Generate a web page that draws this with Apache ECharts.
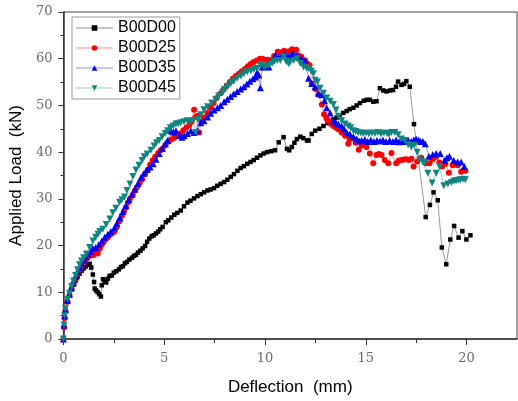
<!DOCTYPE html>
<html>
<head>
<meta charset="utf-8">
<script src="https://cdn.jsdelivr.net/npm/echarts@6/dist/echarts.min.js"></script>
<style>
html,body{margin:0;padding:0;background:#fff;}
#chart{width:518px;height:401px;}
</style>
</head>
<body>
<div id="chart"></div>
<script>
// Legend names
const seriesNames = ['B00D00', 'B00D25', 'B00D35', 'B00D45'];

// Tick values
const xMajorTicks = [0, 5, 10, 15, 20];
const xMinorTicks = [2.5, 7.5, 12.5, 17.5];

// B00D00 : [deflection (mm), applied load (kN)]
const b00d00 = [
[0,0],[0.03,2.5],[0.06,4.5],[0.1,6],[0.2,8],[0.3,9.4],[0.4,10.6],[0.5,11.6],[0.6,12.5],[0.7,13.3],
[0.8,14],[0.9,14.6],[1.0,15.1],[1.1,15.5],[1.2,15.9],[1.3,16.1],[1.38,15.3],[1.46,13.8],[1.52,12.2],[1.55,10.8],
[1.62,10.4],[1.7,10],[1.78,9.6],[1.86,9.1],[1.9,11.5],[1.96,12.8],[2.04,12.5],[2.12,12.1],[2.2,12.9],[2.29,13.5],
[2.4,13.6],[2.5,14.2],[2.62,14.5],[2.75,14.9],[2.85,15.4],[2.95,15.6],[3.05,16.2],[3.15,16.5],[3.27,17],[3.4,17.4],
[3.5,17.8],[3.6,18],[3.7,18.5],[3.82,18.9],[3.93,19.4],[4.05,19.9],[4.15,20.8],[4.26,21.5],[4.38,22],[4.48,22.2],
[4.59,22.6],[4.7,23],[4.8,23.5],[4.92,24],[5.08,25],[5.2,25.4],[5.35,26],[5.5,26.6],[5.65,27],[5.82,27.5],
[5.98,28.4],[6.15,29.2],[6.3,29.6],[6.48,30.1],[6.65,30.6],[6.81,31],[6.98,31.4],[7.15,31.8],[7.3,32],[7.47,32.3],
[7.63,32.8],[7.8,33.2],[7.97,33.6],[8.13,34.1],[8.3,34.7],[8.46,35.3],[8.63,36],[8.79,36.6],[8.95,37],[9.12,37.5],
[9.28,37.9],[9.44,38.3],[9.6,38.8],[9.77,39.3],[9.93,39.7],[10.1,40],[10.3,40.2],[10.5,40.4],[10.68,42.1],[10.92,43.2],
[11.09,40.7],[11.2,40.4],[11.33,41.1],[11.46,42],[11.58,42.8],[11.75,43.3],[11.9,43],[12.08,42.5],[12.16,42.5],[12.32,43.9],
[12.49,44.6],[12.7,45],[12.9,45.6],[13.1,46.2],[13.25,46.5],[13.39,47],[13.55,47.4],[13.7,47.9],[13.88,48.4],[14.05,48.8],
[14.2,49.2],[14.38,49.5],[14.55,50],[14.71,50.5],[14.9,51],[15.05,51.2],[15.2,51.2],[15.37,50.8],[15.53,50.9],[15.7,53.7],
[15.87,53.2],[16.03,53],[16.2,53.2],[16.35,53.3],[16.5,54],[16.6,55.1],[16.77,54.4],[16.9,54.6],[17.01,55.2],[17.18,54],
[17.39,46],[17.97,26.1],[18.18,28.7],[18.36,31.4],[18.57,29.7],[18.77,19.6],[18.99,16],[19.19,21.3],[19.38,24.2],[19.6,21.7],
[19.79,23.1],[19.99,21.3],[20.19,22.2]
];

// B00D25
const b00d25 = [
[0,0],[0.03,2.5],[0.06,4.5],[0.1,6],[0.2,8],[0.3,9.4],[0.4,10.7],[0.5,11.9],[0.6,12.9],[0.7,13.9],
[0.8,14.8],[0.9,15.6],[1.0,16.3],[1.1,16.9],[1.2,17.4],[1.35,17.9],[1.5,18],[1.6,18.6],[1.7,18.3],[1.8,19.3],
[1.9,20.2],[2.0,20.8],[2.1,21.4],[2.2,21.8],[2.3,22.3],[2.4,22.6],[2.53,23],[2.65,24],[2.78,25.2],[2.9,26.4],
[3.0,27.3],[3.1,28.2],[3.2,29.2],[3.3,30],[3.44,30.8],[3.55,31.8],[3.65,32.5],[3.78,33.4],[3.9,34.2],[4.05,35.3],
[4.18,36.2],[4.3,37.3],[4.42,38.2],[4.55,39],[4.7,39.8],[4.82,40.4],[4.92,40.7],[5.05,41.5],[5.2,42.2],[5.35,42.7],
[5.5,43.1],[5.66,43.4],[5.8,44],[5.95,44.7],[6.1,45.3],[6.25,45.8],[6.35,46.5],[6.48,49.1],[6.56,47.5],[6.65,47.8],
[6.73,44.2],[6.85,46.5],[6.97,47.4],[7.14,48.4],[7.3,49.5],[7.45,50.5],[7.6,51.6],[7.8,52.6],[7.95,53.4],[8.1,54.2],
[8.25,55],[8.4,55.7],[8.55,56.3],[8.7,56.8],[8.85,57.3],[9.0,57.8],[9.15,58.4],[9.3,58.9],[9.44,59.3],[9.6,59.6],
[9.75,60],[9.86,60],[10.0,59.8],[10.15,59.8],[10.27,59.6],[10.45,60.6],[10.63,61.5],[10.8,61.4],[10.95,61.7],[11.09,61.4],
[11.2,61.6],[11.34,62],[11.45,61.7],[11.55,61.9],[11.66,60.7],[11.8,60.4],[11.99,59.6],[12.1,58.9],[12.21,58.6],[12.32,54.7],
[12.5,53.5],[12.65,52.3],[12.82,50.2],[12.93,48.1],[13.05,47.2],[13.15,46.7],[13.28,46],[13.39,45.6],[13.52,45.2],[13.64,44.9],
[13.8,44.2],[13.97,43.5],[14.13,41.8],[14.21,42.8],[14.35,43],[14.5,42],[14.65,40.5],[14.79,41.4],[14.9,42],[15.03,41.1],
[15.2,39.7],[15.37,37.6],[15.53,39.4],[15.65,39.6],[15.78,39.4],[15.94,38.3],[16.11,37.6],[16.27,39.8],[16.51,37.6],[16.64,38.2],
[16.77,38.3],[16.9,38.4],[17.01,38.5],[17.13,38.3],[17.26,38.6],[17.37,36.9],[17.55,38],[17.75,38.8],[17.97,37.6],[18.16,37.6],
[18.32,38.5],[18.49,39],[18.65,37.8],[18.79,36.9],[18.95,37.5],[19.12,35.6],[19.31,37.2],[19.45,37.6],[19.56,37.2],[19.73,35.8],
[19.85,36.1],[19.94,36]
];

// B00D35
const b00d35 = [
[0,0],[0.03,3],[0.06,5],[0.1,6.3],[0.2,8.3],[0.3,9.6],[0.4,11],[0.5,12.2],[0.6,13.3],[0.7,14.4],
[0.8,15.3],[0.9,16.1],[1.0,16.9],[1.1,17.6],[1.2,18.2],[1.35,18.8],[1.46,19.4],[1.6,19.6],[1.75,20.2],[1.9,21],
[2.05,21.8],[2.2,22.4],[2.35,23],[2.53,23.8],[2.65,24.8],[2.8,26],[2.95,27.3],[3.1,28.5],[3.25,29.8],[3.4,31],
[3.55,32.1],[3.7,33.3],[3.85,34.6],[4.0,35.5],[4.15,36.3],[4.3,36.8],[4.45,37.5],[4.59,38.5],[4.75,39.7],[4.9,40.8],
[5.05,41.8],[5.17,42.5],[5.33,44.6],[5.45,44.3],[5.58,44.6],[5.75,43.6],[5.88,43.2],[5.99,43.5],[6.15,44],[6.32,44.6],
[6.48,44.2],[6.65,44.6],[6.81,46.3],[6.97,46.7],[7.15,47.5],[7.3,48.3],[7.47,49],[7.64,49.5],[7.8,50],[7.97,50.8],
[8.13,51.3],[8.29,51.9],[8.45,52.5],[8.62,53],[8.79,53.5],[8.95,54],[9.1,54.6],[9.25,55.2],[9.4,55.7],[9.53,56.1],
[9.61,57.1],[9.69,56.5],[9.77,53.8],[9.86,58.2],[10.02,58.3],[10.19,58.2],[10.35,59.7],[10.51,60.7],[10.67,60.4],[10.84,60.7],
[11.0,61],[11.17,60.4],[11.33,61],[11.42,61],[11.55,60.6],[11.66,60.4],[11.82,60],[11.99,59.6],[12.16,55.8],[12.32,54.7],
[12.49,54],[12.65,52.6],[12.82,52.3],[12.95,51],[13.06,49.5],[13.23,48.4],[13.39,46.7],[13.52,46.3],[13.64,46],[13.8,45.6],
[13.92,45],[14.05,44.2],[14.21,43.9],[14.38,43.3],[14.55,42.8],[14.67,42.4],[14.79,42.5],[14.95,42.7],[15.1,42.3],[15.25,42.6],
[15.4,42.3],[15.55,42.5],[15.7,42.4],[15.85,42.6],[16.0,42.3],[16.18,42.5],[16.35,42.3],[16.5,42.6],[16.65,42.2],[16.8,42.5],
[16.95,42.3],[17.1,42.6],[17.26,42.3],[17.38,42.6],[17.5,42.8],[17.62,42.6],[17.72,42.3],[17.83,42.3],[17.95,41.8],[18.13,39.1],
[18.32,39.5],[18.49,39.7],[18.69,39.7],[18.9,38.2],[19.02,38.8],[19.15,39.1],[19.36,38.2],[19.56,37.9],[19.73,37.9],[19.89,36.9]
];

// B00D45
const b00d45 = [
[0,0],[0.03,3],[0.06,5],[0.1,6.5],[0.2,8.5],[0.3,9.8],[0.4,11.2],[0.5,12.4],[0.6,13.6],[0.7,14.8],
[0.8,15.9],[0.9,16.7],[1.0,17.4],[1.14,18.2],[1.3,19.6],[1.46,21],[1.6,21.8],[1.71,22.4],[1.8,23],[1.95,23.5],
[2.12,24.5],[2.3,25.7],[2.45,27],[2.6,28],[2.78,29.3],[2.9,29.8],[3.03,30.4],[3.15,31.8],[3.3,33.2],[3.45,34.8],
[3.6,36.2],[3.75,37.2],[3.9,38.2],[4.01,39],[4.15,39.6],[4.34,40.4],[4.5,41.3],[4.62,42],[4.75,42.5],[4.9,43.3],
[5.05,44],[5.17,44.6],[5.3,45.2],[5.45,45.6],[5.58,46],[5.7,46.1],[5.82,46.3],[5.98,46.5],[6.15,46.7],[6.3,46.5],
[6.45,46.8],[6.56,44.2],[6.68,47],[6.82,48],[6.97,49.1],[7.15,49.7],[7.35,50.5],[7.55,51.2],[7.7,52],[7.9,52.8],
[8.0,53.4],[8.13,54],[8.3,54.7],[8.45,55.2],[8.62,55.8],[8.8,56.3],[8.95,56.8],[9.12,57.2],[9.3,57.4],[9.45,57.7],
[9.61,57.9],[9.77,58.6],[9.95,58.3],[10.05,58.4],[10.19,58.6],[10.35,59],[10.45,59.4],[10.6,59.6],[10.76,59.6],[10.92,60.4],
[11.05,59.4],[11.17,58.9],[11.25,59.3],[11.42,59.6],[11.58,60],[11.75,59],[11.91,58.2],[12.05,58],[12.16,57.9],[12.3,57.3],
[12.4,56.8],[12.49,55.4],[12.6,55],[12.73,53.7],[12.9,52.6],[13.06,51.6],[13.23,50.9],[13.39,50.2],[13.52,49],[13.64,47.7],
[13.8,46.7],[13.97,46],[14.13,45.6],[14.25,45.2],[14.38,44.6],[14.5,44.4],[14.62,44.2],[14.75,44.1],[14.87,44],[15.0,44.1],
[15.15,43.9],[15.3,44.1],[15.45,44],[15.6,44.2],[15.75,43.9],[15.9,44.1],[16.05,44],[16.15,43.8],[16.27,44.2],[16.44,44.2],
[16.6,43.7],[16.77,42.8],[16.93,42.5],[17.1,41.6],[17.26,41.1],[17.4,41.5],[17.55,40],[17.67,38.3],[17.83,37.9],[17.92,37.6],
[18.08,35.5],[18.29,33.4],[18.49,35.5],[18.66,36.9],[18.87,32.8],[19.07,33.2],[19.25,33.5],[19.38,33.8],[19.48,33.9],[19.6,34],
[19.69,34.1],[19.82,34.2],[19.94,34.1]
];

const chart = echarts.init(document.getElementById('chart'), null, {renderer: 'canvas'});

const tickLabelStyle = {fontFamily: 'DejaVu Serif', fontSize: 13, color: '#6a6a6a'};
const titleStyle = {fontFamily: 'Liberation Sans', fontSize: 17, color: '#000'};

const lineColors = ['rgba(0,0,0,0.4)', 'rgba(255,0,0,0.4)', 'rgba(0,0,255,0.4)', 'rgba(15,133,128,0.4)'];
const markColors = ['#000000', '#ff0000', '#0000ff', '#0f8580'];

function mk(i, data, symbol, size) {
  return {
    name: seriesNames[i],
    type: 'line',
    data: data,
    symbol: symbol,
    symbolSize: size,
    showAllSymbol: true,
    animation: false,
    itemStyle: {color: markColors[i]},
    lineStyle: {color: lineColors[i], width: 1},
    emphasis: {disabled: true}
  };
}

chart.setOption({
  animation: false,
  backgroundColor: '#fff',
  grid: {left: 62, right: 1, top: 12, bottom: 55, show: true, borderColor: '#444', borderWidth: 1, backgroundColor: 'transparent'},
  legend: {
    orient: 'vertical',
    left: 72, top: 17,
    padding: [3, 4, 3, 3],
    itemGap: 4,
    itemWidth: 37,
    itemHeight: 7,
    borderColor: '#999',
    borderWidth: 1,
    backgroundColor: '#fff',
    lineStyle: {width: 2, opacity: 0.55},
    textStyle: {fontFamily: 'Liberation Sans', fontSize: 16, color: '#000', lineHeight: 16},
    data: seriesNames
  },
  xAxis: [{
    type: 'value', min: 0, max: 22.5, interval: 5,
    name: 'Deflection  (mm)', nameLocation: 'middle', nameGap: 40, nameTextStyle: titleStyle,
    axisLine: {show: true, lineStyle: {color: '#333', width: 1.5}},
    axisTick: {show: true, length: 6, customValues: xMajorTicks, lineStyle: {color: '#333'}},
    axisLabel: {customValues: xMajorTicks, margin: 13, ...tickLabelStyle},
    splitLine: {show: false}
  }, {
    type: 'value', min: 0, max: 22.5, position: 'bottom', gridIndex: 0,
    axisLine: {show: false},
    axisTick: {show: true, length: 4, customValues: xMinorTicks, lineStyle: {color: '#333'}},
    axisLabel: {show: false},
    splitLine: {show: false}
  }],
  yAxis: {
    type: 'value', min: 0, max: 70, interval: 10,
    name: 'Applied Load  (kN)', nameLocation: 'middle', nameGap: 38, nameTextStyle: titleStyle,
    axisLine: {show: true, lineStyle: {color: '#333', width: 1.5}},
    axisTick: {show: true, length: 5, lineStyle: {color: '#333'}},
    minorTick: {show: true, splitNumber: 2, length: 3, lineStyle: {color: '#333'}},
    axisLabel: {margin: 11, ...tickLabelStyle},
    splitLine: {show: false}
  },
  series: [
    mk(0, b00d00, 'rect', 4.5),
    mk(1, b00d25, 'circle', 6),
    mk(2, b00d35, 'triangle', 7),
    mk(3, b00d45, 'path://M0,0 L10,0 L5,9 Z', 7)
  ]
});
</script>
</body>
</html>
